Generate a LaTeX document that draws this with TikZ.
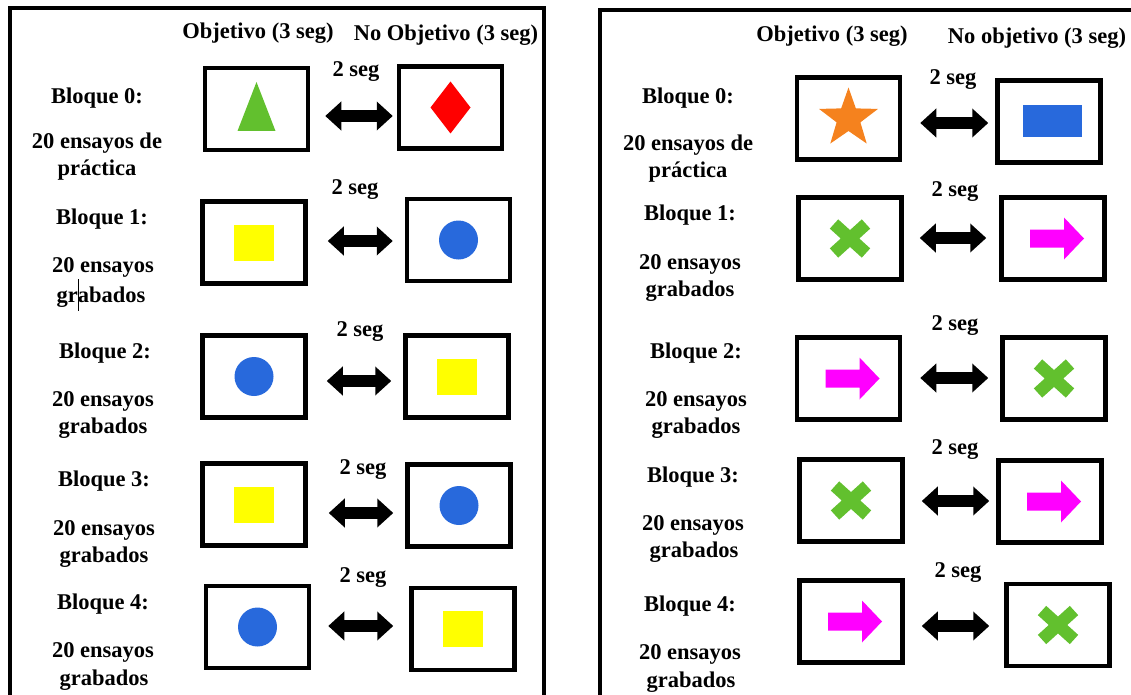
\documentclass[tikz,border=0pt]{standalone}
\usepackage{fontspec}
\setmainfont{Liberation Serif}[BoldFont={Liberation Serif Bold}]
\usetikzlibrary{arrows.meta}
\definecolor{cgreen}{RGB}{98,192,46}
\definecolor{cblue}{RGB}{40,105,220}
\definecolor{corange}{RGB}{245,130,30}
\definecolor{cmag}{RGB}{255,0,255}
\definecolor{cyel}{RGB}{255,255,0}
\definecolor{cred}{RGB}{255,0,0}
\tikzset{
  frame/.style={draw, line width=4pt},
  box/.style={draw, line width=4.5pt, minimum width=103pt, minimum height=82pt, inner sep=0pt},
  lbl/.style={inner sep=0pt, anchor=center},
  dbl/.style={line width=12pt, {Triangle[length=16pt,width=28pt]}-{Triangle[length=16pt,width=28pt]}},
  picTri/.pic={\fill[cgreen] (-19,22) -- (19,22) -- (0,-27) -- cycle;},
  picDiamond/.pic={\fill[cred] (0,-26) -- (20,0) -- (0,26) -- (-20,0) -- cycle;},
  picSquare/.pic={\fill[cyel] (-20,-18) rectangle (20,18);},
  picCircle/.pic={\fill[cblue] (0,0) circle (19.5);},
  picRect/.pic={\fill[cblue] (-26,-16) rectangle (33,16);},
  picStar/.pic={\fill[corange] (-90:31) \foreach \k in {0,...,4}{ -- ({-54+72*\k}:12.5) -- ({-18+72*\k}:31)} -- cycle;},
  picCross/.pic={\draw[cgreen, line width=12.5pt] (-16,-14.5) -- (16,14.5) (-16,14.5) -- (16,-14.5);},
  picArrow/.pic={\fill[cmag] (-23,-9) -- (11,-9) -- (11,-21) -- (31,0) -- (11,21) -- (11,9) -- (-23,9) -- cycle;}
}
\begin{document}
\begin{tikzpicture}[x=1pt,y=-1pt, font=\bfseries\fontsize{22.5}{27}\selectfont]
\useasboundingbox (0,0) rectangle (1131,695);
\clip (0,0) rectangle (1131,695);
% frames
\draw[frame] (10,8) rectangle (544,705);
\draw[frame] (600,10) rectangle (1145,705);

% ---------------- left panel ----------------
\node[lbl] (lh1) at (258,33) {Objetivo (3 seg)};
\node[lbl] (lh2) at (446,35) {No Objetivo (3 seg)};

\node[box] (L0A) at (256.5,109) {};
\node[box] (L0B) at (450.5,107.5) {};
\node[box] (L1A) at (254,242.5) {};
\node[box] (L1B) at (458.5,240) {};
\node[box] (L2A) at (254,376.5) {};
\node[box] (L2B) at (457,376.5) {};
\node[box] (L3A) at (254,504.5) {};
\node[box] (L3B) at (459,505.5) {};
\node[box] (L4A) at (257.5,627) {};
\node[box] (L4B) at (463,629) {};

\pic at (L0A.center) {picTri};
\pic at (L0B.center) {picDiamond};
\pic at (L1A.center) {picSquare};
\pic at (L1B.center) {picCircle};
\pic at (L2A.center) {picCircle};
\pic at (L2B.center) {picSquare};
\pic at (L3A.center) {picSquare};
\pic at (L3B.center) {picCircle};
\pic at (L4A.center) {picCircle};
\pic at (L4B.center) {picSquare};

\node[lbl] (ls0) at (356,72) {2 seg};
\node[lbl] (ls1) at (355,190) {2 seg};
\node[lbl] (ls2) at (360,332) {2 seg};
\node[lbl] (ls3) at (363,470) {2 seg};
\node[lbl] (ls4) at (363,578) {2 seg};

\draw[dbl] ([xshift=15pt,yshift=-7pt]L0A.east) -- ([xshift=-4pt,yshift=-8.5pt]L0B.west);
\draw[dbl] ([xshift=20pt,yshift=1.5pt]L1A.east) -- ([xshift=-12pt,yshift=-1pt]L1B.west);
\draw[dbl] ([xshift=19pt,yshift=-4.5pt]L2A.east) -- ([xshift=-12pt,yshift=-4.5pt]L2B.west);
\draw[dbl] ([xshift=21pt,yshift=-8.5pt]L3A.east) -- ([xshift=-12pt,yshift=-7.5pt]L3B.west);
\draw[dbl] ([xshift=17pt,yshift=1pt]L4A.east) -- ([xshift=-16pt,yshift=3pt]L4B.west);

\node[lbl] (lb0) at (97,98) {Bloque 0:};
\node[lbl] (le0) at (97,143) {20 ensayos de};
\node[lbl] (lg0) at (97,170) {práctica};
\node[lbl] (lb1) at (102,219) {Bloque 1:};
\node[lbl] (le1) at (103,267) {20 ensayos};
\node[lbl] (lg1) at (101,295) {gr\makebox[0pt]{\rule[-0.35em]{0.7pt}{1.4em}}abados};
\node[lbl] (lb2) at (105,353) {Bloque 2:};
\node[lbl] (le2) at (103,401) {20 ensayos};
\node[lbl] (lg2) at (103,428) {grabados};
\node[lbl] (lb3) at (104,481) {Bloque 3:};
\node[lbl] (le3) at (104,530) {20 ensayos};
\node[lbl] (lg3) at (104,557) {grabados};
\node[lbl] (lb4) at (103,604) {Bloque 4:};
\node[lbl] (le4) at (103,652) {20 ensayos};
\node[lbl] (lg4) at (104,680) {grabados};

% ---------------- right panel ----------------
\node[lbl] (rh1) at (832,36) {Objetivo (3 seg)};
\node[lbl] (rh2) at (1037,38) {No objetivo (3 seg)};

\node[box] (R0A) at (848.5,118.5) {};
\node[box] (R0B) at (1049,121.5) {};
\node[box] (R1A) at (850,238.5) {};
\node[box] (R1B) at (1053,238.5) {};
\node[box] (R2A) at (848.5,378.5) {};
\node[box] (R2B) at (1054,378.5) {};
\node[box] (R3A) at (851,500.5) {};
\node[box] (R3B) at (1050,501.5) {};
\node[box] (R4A) at (851,621.5) {};
\node[box] (R4B) at (1058,625) {};

\pic at (R0A.center) {picStar};
\pic at (R0B.center) {picRect};
\pic at (R1A.center) {picCross};
\pic at (R1B.center) {picArrow};
\pic at (R2A.center) {picArrow};
\pic at (R2B.center) {picCross};
\pic at (R3A.center) {picCross};
\pic at (R3B.center) {picArrow};
\pic at (R4A.center) {picArrow};
\pic at (R4B.center) {picCross};

\node[lbl] (rs0) at (953,80) {2 seg};
\node[lbl] (rs1) at (955,192) {2 seg};
\node[lbl] (rs2) at (955,326) {2 seg};
\node[lbl] (rs3) at (955,450) {2 seg};
\node[lbl] (rs4) at (958,573) {2 seg};

\draw[dbl] ([xshift=18pt,yshift=-4.5pt]R0A.east) -- ([xshift=-7pt,yshift=-1.5pt]R0B.west);
\draw[dbl] ([xshift=16pt,yshift=0.5pt]R1A.east) -- ([xshift=-13pt,yshift=0.5pt]R1B.west);
\draw[dbl] ([xshift=18pt,yshift=0.5pt]R2A.east) -- ([xshift=-12pt,yshift=0.5pt]R2B.west);
\draw[dbl] ([xshift=17pt,yshift=-0.5pt]R3A.east) -- ([xshift=-7pt,yshift=0.5pt]R3B.west);
\draw[dbl] ([xshift=17pt,yshift=-4.5pt]R4A.east) -- ([xshift=-15pt,yshift=-1pt]R4B.west);

\node[lbl] (rb0) at (688,98) {Bloque 0:};
\node[lbl] (re0) at (688,145) {20 ensayos de};
\node[lbl] (rg0) at (688,172) {práctica};
\node[lbl] (rb1) at (690,215) {Bloque 1:};
\node[lbl] (re1) at (690,264) {20 ensayos};
\node[lbl] (rg1) at (690,291) {grabados};
\node[lbl] (rb2) at (696,353) {Bloque 2:};
\node[lbl] (re2) at (696,401) {20 ensayos};
\node[lbl] (rg2) at (696,428) {grabados};
\node[lbl] (rb3) at (693,477) {Bloque 3:};
\node[lbl] (re3) at (693,525) {20 ensayos};
\node[lbl] (rg3) at (694,552) {grabados};
\node[lbl] (rb4) at (690,606) {Bloque 4:};
\node[lbl] (re4) at (690,654) {20 ensayos};
\node[lbl] (rg4) at (691,682) {grabados};
\end{tikzpicture}
\end{document}
